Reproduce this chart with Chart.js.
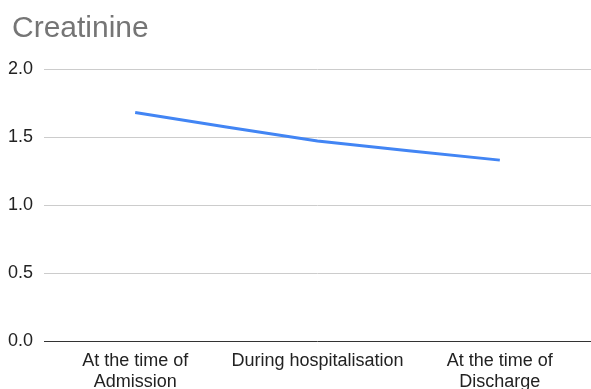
<!DOCTYPE html>
<html>
<head>
<meta charset="utf-8">
<script src="https://cdn.jsdelivr.net/npm/chart.js@4/dist/chart.umd.min.js"></script>
<style>
  html, body { margin: 0; padding: 0; background: #fff; }
  #wrap { position: relative; width: 591px; height: 389px; }
  #title {
    position: absolute; left: 12px; top: 12px; margin: 0;
    font: normal 30px/30px "Liberation Sans", Arial, sans-serif;
    color: #757575; white-space: nowrap;
  }
</style>
</head>
<body>
<div id="wrap">
  <canvas id="c" width="591" height="389"></canvas>
  <div id="title">Creatinine</div>
</div>
<script>
// Creatinine level at three stages of care
const categories = [
  ['At the time of', 'Admission'],
  'During hospitalisation',
  ['At the time of', 'Discharge']
];
const creatinine = [1.68, 1.47, 1.33];
const yTicks = [0, 0.5, 1.0, 1.5, 2.0];

const FONT = '"Liberation Sans", Arial, sans-serif';

new Chart(document.getElementById('c'), {
  type: 'line',
  data: {
    labels: categories,
    datasets: [{
      label: 'Creatinine',
      data: creatinine,
      borderColor: '#4285F4',
      backgroundColor: '#4285F4',
      borderWidth: 3,
      pointRadius: 0,
      pointHoverRadius: 0,
      tension: 0.12,
      fill: false
    }]
  },
  options: {
    responsive: false,
    animation: false,
    layout: { padding: { left: 0, right: 0, top: 69, bottom: 0 } },
    plugins: {
      legend: { display: false },
      tooltip: { enabled: false },
      title: { display: false }
    },
    scales: {
      x: {
        offset: true,
        grid: { display: false, drawTicks: false },
        border: { display: false },
        ticks: {
          color: '#222',
          font: { family: FONT, size: 18 },
          padding: 9,
          maxRotation: 0,
          autoSkip: false
        },
        afterFit(scale) { scale.height = 48; }
      },
      y: {
        min: yTicks[0],
        max: yTicks[yTicks.length - 1],
        afterBuildTicks(scale) {
          scale.ticks = yTicks.map(v => ({ value: v }));
        },
        grid: {
          drawTicks: false,
          lineWidth: 1,
          color: ctx => (ctx.tick && ctx.tick.value === 0) ? '#333' : '#ccc'
        },
        border: { display: false },
        ticks: {
          color: '#222',
          font: { family: FONT, size: 18 },
          padding: 11,
          callback: v => Number(v).toFixed(1)
        },
        afterFit(scale) { scale.width = 44; }
      }
    }
  }
});
</script>
</body>
</html>
